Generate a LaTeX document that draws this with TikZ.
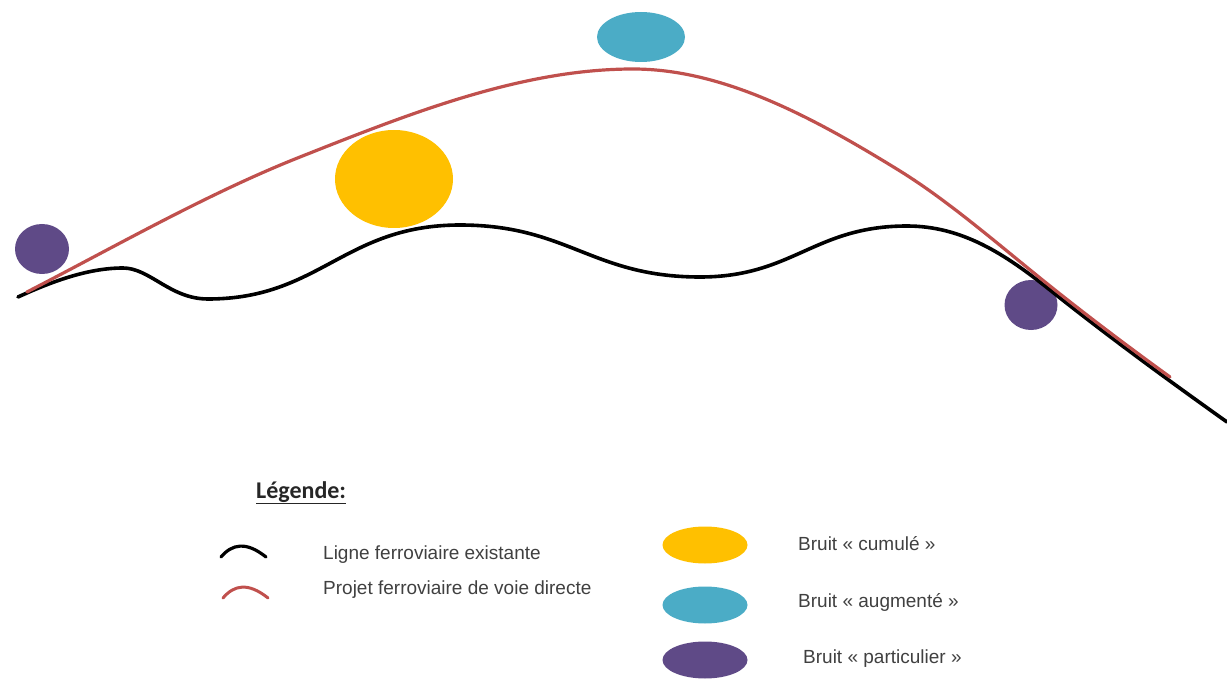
\documentclass[tikz,border=0pt]{standalone}
\usepackage{fontspec}
\setmainfont{Liberation Sans}
\newfontfamily\calib{Carlito}
\usetikzlibrary{shapes.geometric}
\definecolor{rline}{HTML}{C0504D}
\definecolor{yel}{HTML}{FFC000}
\definecolor{cya}{HTML}{4BACC6}
\definecolor{pur}{HTML}{5F4A87}
\tikzset{
  blob/.style={ellipse, inner sep=0pt, draw=none},
  existing/.style={black, line width=3.6pt, line cap=round},
  project/.style={rline, line width=3.2pt, line cap=round},
  lbl/.style={anchor=base west, inner sep=0pt, font=\fontsize{19}{22}\selectfont, text=black!75},
}
\begin{document}
\begin{tikzpicture}[x=1pt,y=-1pt]
\useasboundingbox (0,0) rectangle (1227,679);
% noise blobs
\node[blob, fill=cya, minimum width=88pt, minimum height=50pt] (c1) at (641,37) {};
\node[blob, fill=yel, minimum width=118pt, minimum height=98pt] (y1) at (394,179) {};
\node[blob, fill=pur, minimum width=54pt, minimum height=50pt] (p1) at (42,249) {};
\node[blob, fill=pur, minimum width=53pt, minimum height=50pt] (p2) at (1031,305) {};
% existing line
\coordinate (e0) at (18,297);
\coordinate (e1) at (123,268);
\coordinate (e2) at (208,299);
\coordinate (e3) at (460,225);
\coordinate (e4) at (700,277);
\coordinate (e5) at (907,226);
\coordinate (e6) at (1050,290);
\coordinate (e7) at (1227,422);
\draw[existing] (e0) .. controls (55,280) and (90,268) .. (e1)
  .. controls (150,268) and (170,299) .. (e2)
  .. controls (320,299) and (344,225) .. (e3)
  .. controls (568,225) and (592,277) .. (e4)
  .. controls (793,277) and (814,226) .. (e5)
  .. controls (962,226) and (1005,254) .. (e6)
  .. controls (1109,337) and (1168,380) .. (e7);
% project line
\coordinate (r0) at (27,292);
\coordinate (r1) at (300,157);
\coordinate (r2) at (633,69);
\coordinate (r3) at (900,171);
\coordinate (r4) at (1050,286);
\coordinate (r5) at (1170,377);
\draw[project] (r0) .. controls (118,245) and (209,193) .. (r1)
  .. controls (411,113) and (522,69) .. (r2)
  .. controls (722,69) and (811,116) .. (r3)
  .. controls (950,202) and (1000,246) .. (r4)
  .. controls (1090,318) and (1130,348) .. (r5);
% legend
\node[anchor=base west, inner sep=0pt, font=\calib\bfseries\fontsize{24}{28}\selectfont, text=black!85] (leg) at (256,498) {\underline{Légende:}};
\coordinate (la) at (221,557);
\coordinate (lb) at (266,557);
\coordinate (lc1) at (223,598);
\coordinate (ld) at (268,598);
\draw[existing, line width=3.2pt] (la) .. controls (232,544) and (246,541) .. (lb);
\draw[project, line width=3pt] (lc1) .. controls (234,585) and (248,582) .. (ld);
\node[lbl] (t1) at (323,559) {Ligne ferroviaire existante};
\node[lbl] (t2) at (323,594) {Projet ferroviaire de voie directe};
\node[blob, fill=yel, minimum width=85pt, minimum height=37pt] (ly) at (705,545) {};
\node[blob, fill=cya, minimum width=85pt, minimum height=37pt] (lc) at (705,605) {};
\node[blob, fill=pur, minimum width=85pt, minimum height=37pt] (lp) at (705,660) {};
\node[lbl] (t3) at (798,550) {Bruit « cumulé »};
\node[lbl] (t4) at (798,607) {Bruit « augmenté »};
\node[lbl] (t5) at (803,663) {Bruit « particulier »};
\end{tikzpicture}
\end{document}
